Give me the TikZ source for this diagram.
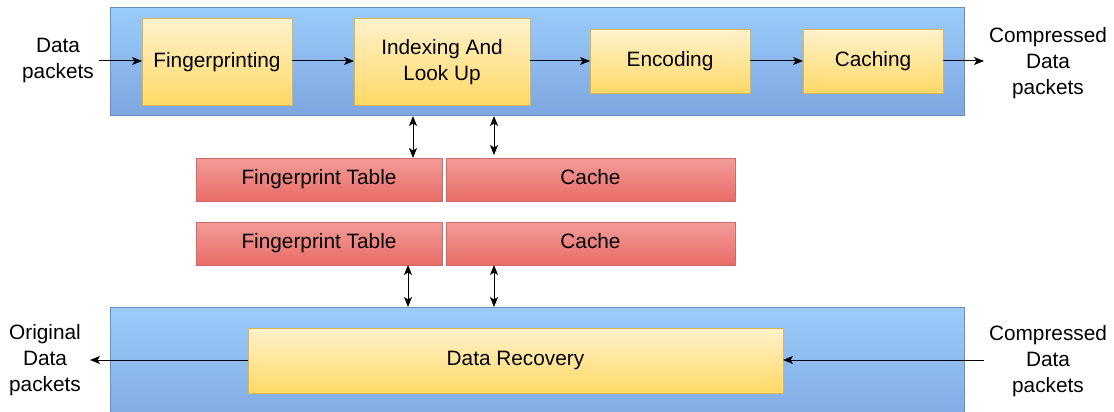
\documentclass[tikz,border=0pt]{standalone}
\usepackage{fontspec}
\setmainfont{Liberation Sans}
\usetikzlibrary{arrows.meta}
\definecolor{bTop}{HTML}{9ACCFB}
\definecolor{bBot}{HTML}{7EA6E0}
\definecolor{bLine}{HTML}{6C8EBF}
\definecolor{yTop}{HTML}{FFF2CC}
\definecolor{yBot}{HTML}{FFD966}
\definecolor{yLine}{HTML}{D6B656}
\definecolor{rTop}{HTML}{F19C99}
\definecolor{rBot}{HTML}{EA6B66}
\definecolor{rLine}{HTML}{D06A66}
\begin{document}
\begin{tikzpicture}[x=1pt,y=-1pt,
  >={Stealth[length=10pt,width=8pt,inset=2.5pt]},
  every node/.style={font=\fontsize{20.8}{26}\selectfont, align=center, inner sep=0pt, outer sep=0pt},
  lane/.style={draw=bLine, top color=bTop, bottom color=bBot, line width=1pt, anchor=north west},
  stage/.style={draw=yLine, top color=yTop, bottom color=yBot, line width=1pt, anchor=north west},
  oneline/.style={text height=15pt, text depth=4.5pt},
  store/.style={draw=rLine, top color=rTop, bottom color=rBot, line width=1pt, anchor=north west, minimum height=43pt, oneline},
  link/.style={draw=black, line width=1pt, ->},
  both/.style={draw=black, line width=1pt, <->}
]
\useasboundingbox (0,0) rectangle (1114,412);
\clip (0,0) rectangle (1114,412);

% encoder lane
\node[lane, minimum width=854pt, minimum height=107pt] (enc) at (110,8) {};
\node[stage, oneline, minimum width=150pt, minimum height=86pt] (fp) at (142,19) {Fingerprinting};
\node[stage, minimum width=176pt, minimum height=86pt] (il) at (354,19) {Indexing And\\Look Up};
\node[stage, oneline, minimum width=160pt, minimum height=63pt] (en) at (590,30) {Encoding};
\node[stage, oneline, minimum width=140pt, minimum height=63pt] (ca) at (803,30) {Caching};

% tables
\node[store, minimum width=246pt] (ft1) at (196,158) {Fingerprint Table};
\node[store, minimum width=289pt] (c1) at (446,158) {Cache};
\node[store, minimum width=246pt] (ft2) at (196,222) {Fingerprint Table};
\node[store, minimum width=289pt] (c2) at (446,222) {Cache};

% decoder lane
\node[lane, minimum width=854pt, minimum height=130pt] (dec) at (110,307) {};
\node[stage, oneline, minimum width=535pt, minimum height=65pt] (dr) at (248,328) {Data Recovery};

% outside labels
\node (din) at (58,61) {Data\\packets};
\node (cout) at (1048,63) {Compressed\\Data\\packets};
\node (cin) at (1048,361) {Compressed\\Data\\packets};
\node (oout) at (45,360) {Original\\Data\\packets};

\coordinate (inA) at (99,61);
\coordinate (outA) at (984,61);
\coordinate (inB) at (984,360);
\coordinate (outB) at (90,360);
\coordinate (a1) at (413,116);
\coordinate (a2) at (494,116);
\coordinate (a2e) at (494,155);
\coordinate (a3) at (408,307);
\coordinate (a4) at (494,307);

% encoder chain
\draw[link] (inA) -- (fp.west |- inA);
\draw[link] (fp.east |- inA) -- (il.west |- inA);
\draw[link] (il.east |- inA) -- (en.west |- inA);
\draw[link] (en.east |- inA) -- (ca.west |- inA);
\draw[link] (ca.east |- inA) -- (outA);

% table access
\draw[both] (a1) -- (a1 |- ft1.north);
\draw[both] (a2) -- (a2e);
\draw[both] (ft2.south -| a3) -- (a3);
\draw[both] (c2.south -| a4) -- (a4);

% decoder chain
\draw[link] (inB) -- (dr.east |- inB);
\draw[link] (dr.west |- inB) -- (outB);
\end{tikzpicture}
\end{document}
